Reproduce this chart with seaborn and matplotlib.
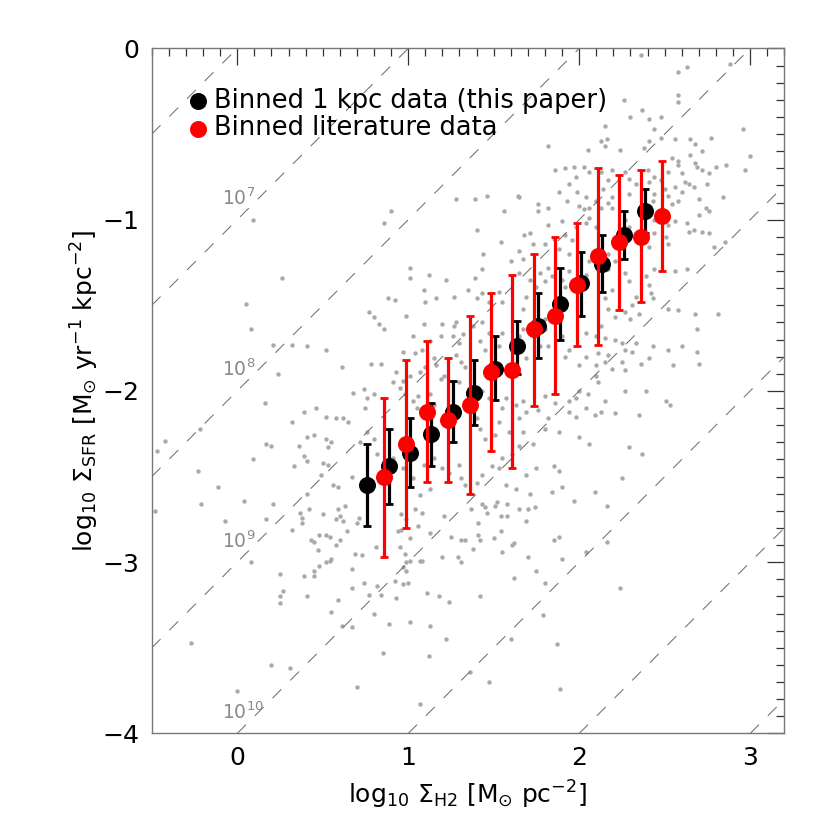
import matplotlib
matplotlib.use("Agg")
import matplotlib.pyplot as plt
from matplotlib.ticker import MultipleLocator
import seaborn as sns
import pandas as pd

# binned points: log Sigma_H2, log Sigma_SFR, upper and lower end of the bar
black_x = [0.76, 0.885, 1.01, 1.135, 1.26, 1.385, 1.51, 1.635, 1.76, 1.885, 2.01, 2.135, 2.26, 2.385]
black_y = [-2.55, -2.44, -2.36, -2.25, -2.12, -2.01, -1.87, -1.74, -1.62, -1.49, -1.37, -1.26, -1.09, -0.95]
black_hi = [-2.31, -2.22, -2.16, -2.07, -1.94, -1.82, -1.68, -1.59, -1.43, -1.28, -1.19, -1.09, -0.95, -0.82]
black_lo = [-2.79, -2.66, -2.56, -2.44, -2.30, -2.20, -2.05, -1.90, -1.81, -1.70, -1.56, -1.42, -1.23, -1.08]

red_x = [0.86, 0.985, 1.11, 1.235, 1.36, 1.485, 1.61, 1.735, 1.86, 1.985, 2.11, 2.235, 2.36, 2.485]
red_y = [-2.50, -2.31, -2.12, -2.17, -2.08, -1.89, -1.88, -1.64, -1.56, -1.38, -1.21, -1.13, -1.10, -0.98]
red_hi = [-2.04, -1.82, -1.71, -1.81, -1.56, -1.43, -1.32, -1.20, -1.10, -1.02, -0.70, -0.74, -0.71, -0.66]
red_lo = [-2.97, -2.80, -2.53, -2.53, -2.60, -2.35, -2.45, -2.09, -2.02, -1.74, -1.73, -1.53, -1.48, -1.30]

cloud_upper = [
    (0.09, -1.00), (0.86, -1.02), (0.90, -0.95), (1.28, -0.88),
    (2.36, -0.04), (2.58, -0.14), (2.63, -0.11), (2.88, -0.09), (2.26, -0.30), (2.58, -0.27),
    (2.58, -0.31), (2.37, -0.36), (2.30, -0.40), (2.41, -0.41), (2.48, -0.40), (2.15, -0.45),
    (2.44, -0.47), (2.48, -0.52), (2.56, -0.53), (2.41, -0.54), (2.65, -0.53), (2.77, -0.52),
    (2.96, -0.47), (2.13, -0.54), (2.16, -0.53), (2.15, -0.57), (2.24, -0.59), (2.05, -0.59),
    (2.38, -0.58), (2.68, -0.56), (2.72, -0.60), (1.82, -0.57), (3.00, -0.63), (2.54, -0.64),
    (2.58, -0.66), (2.65, -0.62), (2.68, -0.67), (2.69, -0.69), (2.58, -0.68), (2.80, -0.69),
    (2.86, -0.68), (2.97, -0.71), (1.92, -0.70), (1.97, -0.69), (2.03, -0.69), (1.86, -0.71),
    (2.06, -0.72), (2.13, -0.72), (2.19, -0.71), (2.27, -0.72), (2.40, -0.71), (2.44, -0.75),
    (2.52, -0.72), (2.60, -0.73), (2.62, -0.78), (2.72, -0.71), (2.76, -0.73), (1.94, -0.79),
    (1.98, -0.75), (1.88, -0.84), (1.99, -0.84), (2.04, -0.87), (2.17, -0.77), (2.14, -0.82),
    (2.29, -0.76), (2.33, -0.79), (2.41, -0.78), (2.48, -0.77), (2.50, -0.82), (2.56, -0.81),
    (2.64, -0.79), (2.67, -0.81), (2.75, -0.79), (2.52, -0.86), (2.60, -0.84), (2.58, -0.89),
    (2.54, -0.91), (2.44, -0.85), (2.43, -0.89), (2.29, -0.85), (2.19, -0.87), (2.17, -0.90),
    (2.19, -0.93), (2.13, -0.93), (2.10, -0.89), (2.06, -0.93), (2.03, -0.94), (2.00, -0.92),
    (1.93, -0.89), (1.82, -0.93), (1.76, -0.91), (1.76, -0.95), (1.65, -0.87), (1.64, -0.86),
    (1.56, -0.95), (1.46, -0.86), (1.39, -0.88), (2.84, -0.87), (2.70, -0.88), (2.74, -0.93),
    (2.76, -0.95), (2.70, -0.97), (2.63, -1.02), (2.67, -1.06), (2.72, -1.07), (2.76, -1.08),
    (2.64, -1.07), (2.56, -1.01), (2.52, -0.98), (2.52, -1.03), (2.44, -1.00), (2.44, -1.08),
    (2.51, -1.10), (2.52, -1.14), (2.41, -1.16), (2.27, -1.00), (2.29, -1.04), (2.33, -1.12),
    (2.06, -0.99), (2.04, -1.02), (2.10, -1.04), (1.98, -1.04), (1.90, -1.01), (1.82, -1.03),
    (1.85, -1.11), (1.92, -1.09), (1.96, -1.12), (1.94, -1.20), (1.88, -1.17), (1.80, -1.14),
    (1.73, -1.14), (1.71, -1.08), (1.68, -1.09), (1.65, -1.18), (1.67, -1.23), (1.60, -1.24),
    (1.54, -1.13), (1.40, -1.06), (1.44, -1.20), (2.06, -1.24), (2.17, -1.20), (2.21, -1.24),
    (2.85, -1.13), (2.79, -1.16),
]

cloud_right = [
    (1.39, -1.34), (1.43, -1.29), (1.65, -1.31), (1.71, -1.35), (1.75, -1.39), (1.77, -1.31),
    (1.80, -1.36), (1.82, -1.28), (1.84, -1.33), (1.90, -1.35), (1.92, -1.39), (1.94, -1.30),
    (2.04, -1.32), (2.17, -1.29), (2.27, -1.31), (2.29, -1.36), (2.39, -1.33), (2.44, -1.29),
    (2.56, -1.30), (2.63, -1.29), (2.41, -1.38), (2.42, -1.43), (2.43, -1.46), (2.33, -1.45),
    (2.31, -1.50), (2.27, -1.54), (2.19, -1.41), (2.15, -1.46), (2.17, -1.52), (2.21, -1.57),
    (2.30, -1.58), (2.35, -1.55), (2.52, -1.52), (2.58, -1.53), (2.68, -1.55), (2.81, -1.55),
    (1.43, -1.43), (1.40, -1.46), (1.47, -1.48), (1.53, -1.42), (1.55, -1.48), (1.67, -1.52),
    (1.69, -1.45), (1.80, -1.58), (1.80, -1.64), (1.67, -1.64), (1.65, -1.68), (1.55, -1.66),
    (1.47, -1.66), (1.43, -1.60), (1.38, -1.62), (1.42, -1.71), (1.45, -1.76), (1.53, -1.74),
    (1.65, -1.76), (1.69, -1.81), (1.77, -1.74), (1.82, -1.74), (1.90, -1.68), (1.94, -1.76),
    (1.92, -1.80), (2.00, -1.85), (2.04, -1.80), (2.10, -1.85), (2.11, -1.78), (2.04, -1.66),
    (2.10, -1.68), (2.13, -1.62), (2.15, -1.69), (2.21, -1.70), (2.25, -1.72), (2.27, -1.76),
    (2.31, -1.77), (2.33, -1.72), (2.43, -1.74), (2.52, -1.76), (2.60, -1.74), (2.69, -1.77),
    (2.69, -1.64), (2.70, -1.84), (2.55, -1.85), (2.36, -1.84), (2.41, -1.81), (2.17, -1.79),
    (2.15, -1.83), (2.19, -1.87), (2.25, -1.83), (2.27, -1.88), (2.10, -1.91), (2.11, -1.95),
    (2.00, -2.00), (1.98, -2.04), (2.05, -2.02), (1.94, -2.06), (1.86, -2.07), (1.80, -2.03),
    (1.76, -2.11), (1.82, -2.16), (1.80, -2.22), (1.88, -2.24), (2.00, -2.27), (2.06, -2.31),
    (1.94, -2.12), (1.98, -2.15), (2.04, -2.10), (2.09, -2.14), (2.13, -2.12), (2.15, -2.06),
    (2.21, -2.13), (2.27, -2.00), (2.35, -2.14), (2.39, -2.00), (2.51, -2.06), (2.53, -2.08),
    (2.29, -2.33), (2.37, -2.37), (2.25, -2.51), (2.09, -2.59), (1.90, -2.56), (1.84, -2.59),
    (1.88, -2.47), (1.85, -2.44), (1.75, -2.45), (1.69, -2.49), (1.71, -2.60), (1.63, -2.57),
    (1.57, -2.55), (1.53, -2.45), (1.49, -2.44), (1.43, -2.49), (1.40, -2.54), (1.55, -2.39),
    (1.61, -2.37), (1.65, -2.32), (1.73, -2.31), (1.67, -2.24), (1.59, -2.24), (1.51, -2.26),
    (1.45, -2.28), (1.40, -2.16), (1.42, -2.22), (1.53, -2.18), (1.65, -2.16), (1.69, -2.12),
    (1.67, -2.06), (1.63, -2.08), (1.55, -2.10), (1.57, -2.04), (1.47, -2.04), (1.43, -2.00),
]

cloud_left = [
    (0.26, -1.34), (1.01, -1.28), (1.01, -1.34), (1.12, -1.32), (1.22, -1.35), (1.09, -1.41),
    (1.10, -1.48), (1.16, -1.46), (1.27, -1.45), (1.35, -1.41), (0.88, -1.46), (0.92, -1.47),
    (0.05, -1.49), (0.08, -1.64), (0.77, -1.54), (0.80, -1.57), (0.83, -1.61), (0.86, -1.64),
    (0.99, -1.56), (1.09, -1.61), (1.20, -1.61), (1.27, -1.62), (1.28, -1.60), (1.32, -1.67),
    (1.30, -1.72), (1.26, -1.68), (1.19, -1.68), (1.13, -1.71), (1.03, -1.68), (0.97, -1.77),
    (1.04, -1.78), (1.08, -1.76), (1.15, -1.81), (1.16, -1.85), (1.10, -1.86), (1.07, -1.89),
    (1.01, -1.91), (0.97, -1.94), (0.93, -1.89), (0.91, -1.95), (0.95, -1.98), (0.98, -2.02),
    (1.03, -2.06), (1.05, -2.10), (1.06, -2.03), (1.13, -2.02), (1.15, -2.08), (1.19, -1.93),
    (1.21, -1.91), (1.30, -1.95), (1.33, -1.86), (1.28, -1.79), (1.31, -1.83), (0.78, -1.84),
    (0.84, -1.84), (0.61, -1.86), (0.52, -1.76), (0.41, -1.74), (0.32, -1.73), (0.21, -1.73),
    (0.24, -1.90), (0.16, -2.07), (0.09, -2.40), (0.17, -2.31), (0.20, -2.32), (0.39, -2.12),
    (0.46, -2.10), (0.52, -2.15), (0.58, -2.16), (0.62, -2.16), (0.65, -2.18), (0.68, -2.01),
    (0.74, -1.99), (0.76, -2.04), (0.80, -2.02), (0.75, -2.10), (0.32, -2.18), (0.41, -2.27),
    (0.45, -2.26), (0.52, -2.28), (0.55, -2.30), (0.53, -2.33), (0.36, -2.32), (0.39, -2.38),
    (0.33, -2.44), (0.41, -2.41), (0.50, -2.42), (0.53, -2.43), (0.49, -2.49), (0.56, -2.55),
    (0.59, -2.56), (0.67, -2.50), (0.72, -2.30), (0.76, -2.24), (0.80, -2.28), (0.82, -2.37),
    (0.91, -2.39), (0.97, -2.45), (1.03, -2.51), (1.09, -2.43), (1.15, -2.39), (1.20, -2.45),
    (1.24, -2.48), (1.30, -2.43), (1.31, -2.51), (1.33, -2.55), (1.13, -2.57), (1.07, -2.61),
    (-0.23, -2.47), (-0.11, -2.56), (-0.42, -2.29), (-0.47, -2.35), (-0.22, -2.22), (0.41, -2.60),
]

cloud_lower = [
    (-0.48, -2.70), (-0.21, -2.66), (-0.07, -2.76), (0.04, -2.64), (0.21, -2.66), (0.17, -2.75),
    (0.08, -3.00), (0.32, -2.81), (0.37, -2.71), (0.38, -2.74), (0.38, -2.77), (0.42, -2.69),
    (0.50, -2.72), (0.58, -2.75), (0.60, -2.73), (0.62, -2.76), (0.59, -2.69), (0.63, -2.67),
    (0.64, -2.82), (0.71, -2.74), (0.70, -2.77), (0.43, -2.87), (0.45, -2.88), (0.47, -2.93),
    (0.48, -2.84), (0.52, -2.84), (0.54, -2.85), (0.60, -2.87), (0.58, -2.90), (0.55, -2.98),
    (0.54, -2.99), (0.52, -3.00), (0.48, -3.02), (0.45, -3.05), (0.45, -3.08), (0.39, -3.08),
    (0.41, -3.20), (0.25, -3.07), (0.27, -3.17), (0.25, -3.20), (0.25, -3.24), (0.55, -3.29),
    (0.59, -3.22), (0.61, -3.37), (0.67, -3.38), (0.67, -3.15), (0.67, -3.04), (0.69, -2.95),
    (0.73, -2.96), (0.74, -3.12), (0.77, -3.19), (0.80, -3.30), (0.82, -3.14), (0.84, -3.19),
    (0.81, -2.91), (0.89, -3.36), (0.85, -3.53), (0.93, -3.21), (0.92, -3.11), (0.97, -3.13),
    (1.00, -3.12), (0.97, -3.03), (0.99, -3.05), (0.99, -3.00), (1.01, -2.99), (1.07, -2.99),
    (1.08, -2.99), (0.98, -2.95), (0.95, -2.91), (0.94, -2.82), (0.96, -2.81), (1.01, -2.86),
    (0.99, -2.75), (0.96, -2.72), (1.04, -2.69), (1.08, -2.71), (1.06, -2.79), (1.13, -2.83),
    (1.21, -2.73), (1.25, -2.85), (1.31, -2.87), (1.33, -2.87), (1.29, -2.97), (1.31, -3.00),
    (1.20, -2.97), (1.11, -3.18), (1.18, -3.20), (1.24, -3.23), (1.13, -3.37), (1.22, -3.45),
    (1.12, -3.55), (1.01, -3.35), (1.07, -3.83), (0.70, -3.73), (0.31, -3.62), (0.20, -3.60),
    (0.00, -3.75), (-0.27, -3.47), (1.36, -3.64),
    (1.37, -2.69), (1.43, -2.66), (1.45, -2.68), (1.46, -2.71), (1.51, -2.67), (1.52, -2.65),
    (1.58, -2.66), (1.54, -2.73), (1.58, -2.73), (1.65, -2.69), (1.70, -2.69), (1.74, -2.68),
    (1.69, -2.76), (1.97, -2.64), (2.16, -2.67), (1.41, -2.77), (1.54, -2.82), (1.41, -2.84),
    (1.42, -2.87), (1.50, -2.86), (1.38, -2.92), (1.55, -2.94), (1.61, -2.90), (1.62, -2.89),
    (1.85, -2.87), (1.88, -2.85), (1.70, -2.97), (1.90, -2.98), (2.04, -2.94), (2.16, -2.88),
    (1.75, -3.05), (1.62, -3.09), (1.80, -3.12), (2.24, -3.15), (1.42, -3.20), (1.79, -3.31),
    (1.60, -3.45), (1.87, -3.48), (1.47, -3.70), (1.89, -3.74),
]

# depletion-time lines, log Sigma_SFR = log Sigma_H2 + 6 - n  (t = 10^n yr)
tdep_exp = [5, 6, 7, 8, 9, 10, 11, 12, 13, 14]
tdep_labelled = [7, 8, 9, 10]

cloud = pd.DataFrame(cloud_upper + cloud_right + cloud_left + cloud_lower, columns=["h2", "sfr"])

sns.set_style("white")
plt.rcParams["font.family"] = ["DejaVu Sans"]
plt.rcParams["mathtext.fontset"] = "dejavusans"
plt.rcParams["mathtext.default"] = "regular"
plt.rcParams["axes.unicode_minus"] = True
plt.rcParams["text.color"] = "black"
plt.rcParams["axes.labelcolor"] = "black"

fig = plt.figure(figsize=(8.3, 8.3), dpi=100)
ax = fig.add_axes([0.1828, 0.1163, 0.7622, 0.8253])

sns.scatterplot(data=cloud, x="h2", y="sfr", ax=ax, color="#a9a9a9", s=10,
                linewidth=0, zorder=1)

for n in tdep_exp:
    ax.axline((0, 6 - n), slope=1, color="#707070", lw=0.75, dashes=(12, 12), zorder=2)
for n in tdep_labelled:
    ax.text(-0.09, 6 - n + 0.085, f"$10^{{{n}}}$", color="#8a8a8a", fontsize=13.5,
            ha="left", va="baseline", zorder=2)

ax.errorbar(black_x, black_y,
            yerr=[[y - lo for y, lo in zip(black_y, black_lo)],
                  [hi - y for y, hi in zip(black_y, black_hi)]],
            fmt="none", ecolor="black", elinewidth=2.3, capsize=3, capthick=2, zorder=3)
sns.scatterplot(x=black_x, y=black_y, ax=ax, color="black", s=150, linewidth=0,
                label="Binned 1 kpc data (this paper)", zorder=4)
ax.errorbar(red_x, red_y,
            yerr=[[y - lo for y, lo in zip(red_y, red_lo)],
                  [hi - y for y, hi in zip(red_y, red_hi)]],
            fmt="none", ecolor="red", elinewidth=2.3, capsize=3, capthick=2, zorder=5)
sns.scatterplot(x=red_x, y=red_y, ax=ax, color="red", s=150, linewidth=0,
                label="Binned literature data", zorder=6)

ax.set_xlim(-0.5, 3.2)
ax.set_ylim(-4, 0)
ax.xaxis.set_major_locator(MultipleLocator(1))
ax.xaxis.set_minor_locator(MultipleLocator(0.1))
ax.yaxis.set_major_locator(MultipleLocator(1))
ax.yaxis.set_minor_locator(MultipleLocator(0.1))
ax.tick_params(which="both", direction="in", top=True, right=True, color="#333333",
               width=0.9)
ax.tick_params(which="major", length=12, pad=9, labelsize=18, labelcolor="black")
ax.tick_params(which="minor", length=6)
for sp in ax.spines.values():
    sp.set_color("#777777")
    sp.set_linewidth(1.0)

ax.set_xlabel(r"log$_{10}$ $\Sigma_{H2}$ [M$_{\odot}$ pc$^{-2}$]", fontsize=18, labelpad=6)
ax.set_ylabel(r"log$_{10}$ $\Sigma_{SFR}$ [M$_{\odot}$ yr$^{-1}$ kpc$^{-2}$]", fontsize=18, labelpad=1)

leg = ax.legend(loc="upper left", bbox_to_anchor=(0.035, 0.957), frameon=False,
                fontsize=18.5, handletextpad=0.05, labelspacing=0.05, borderaxespad=0,
                markerscale=1.0, handlelength=1.1)
for t in leg.get_texts():
    t.set_color("black")

fig.savefig("out.png", dpi=100)
